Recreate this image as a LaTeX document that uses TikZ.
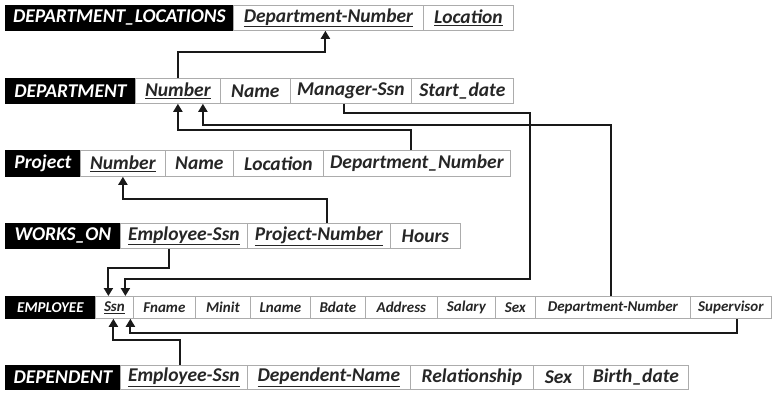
\documentclass[tikz,border=0pt]{standalone}
\usepackage{fontspec}
\setmainfont{Carlito}
\usetikzlibrary{arrows.meta,calc}
\tikzset{
  cell/.style={draw=gray!65, line width=0.8pt, fill=white, inner sep=0pt, anchor=north west,
    font=\fontsize{19.5}{21}\selectfont\bfseries\itshape, text=black!85},
  hdr/.style={fill=black, draw=black, text=white},
  small/.style={font=\fontsize{15}{17}\selectfont\bfseries\itshape},
  link/.style={line width=2pt, draw=black!90, -{Triangle[width=9pt,length=8pt]}},
}
\newcommand\rc[7][]{\node[cell,#1,minimum width={(#4-#3)*1pt},minimum height={(#6-#5)*1pt}] (#2) at (#3,#5) {#7};}
\begin{document}
\begin{tikzpicture}[x=1pt,y=-1pt]
\useasboundingbox[fill=white] (0,0) rectangle (773,392);
% DEPARTMENT_LOCATIONS
\rc[hdr]{dlh}{5}{233}{5}{30}{DEPARTMENT\_LOCATIONS}
\rc{dldn}{233}{423}{5}{30}{\underline{Department-Number}}
\rc{dlloc}{423}{513}{5}{30}{\underline{Location}}
% DEPARTMENT
\rc[hdr]{deph}{5}{135}{78}{103}{DEPARTMENT}
\rc{depnum}{135}{220}{78}{103}{\underline{Number}}
\rc{depname}{220}{290}{78}{103}{Name}
\rc{depmgr}{290}{411}{78}{103}{Manager-Ssn}
\rc{depstart}{411}{513}{78}{103}{Start\_date}
% Project
\rc[hdr]{prh}{5}{80}{150}{176}{Project}
\rc{prnum}{80}{165}{150}{176}{\underline{Number}}
\rc{prname}{165}{233}{150}{176}{Name}
\rc{prloc}{233}{323}{150}{176}{Location}
\rc{prdn}{323}{510}{150}{176}{Department\_Number}
% WORKS_ON
\rc[hdr]{woh}{5}{120}{223}{248}{WORKS\_ON}
\rc{woessn}{120}{247}{223}{248}{\underline{Employee-Ssn}}
\rc{wopn}{247}{390}{223}{248}{\underline{Project-Number}}
\rc{wohrs}{390}{460}{223}{248}{Hours}
% EMPLOYEE
\rc[hdr,small]{emh}{5}{95}{296}{318}{EMPLOYEE}
\rc[small]{emssn}{95}{133}{296}{318}{\underline{Ssn}}
\rc[small]{emf}{133}{195}{296}{318}{Fname}
\rc[small]{emm}{195}{250}{296}{318}{Minit}
\rc[small]{eml}{250}{310}{296}{318}{Lname}
\rc[small]{emb}{310}{365}{296}{318}{Bdate}
\rc[small]{ema}{365}{437}{296}{318}{Address}
\rc[small]{ems}{437}{495}{296}{318}{Salary}
\rc[small]{emsex}{495}{535}{296}{318}{Sex}
\rc[small]{emdn}{535}{690}{296}{318}{Department-Number}
\rc[small]{emsup}{690}{771}{296}{318}{Supervisor}
% DEPENDENT
\rc[hdr]{dph}{5}{120}{365}{389}{DEPENDENT}
\rc{dpessn}{120}{247}{365}{389}{\underline{Employee-Ssn}}
\rc{dpname}{247}{410}{365}{389}{\underline{Dependent-Name}}
\rc{dprel}{410}{533}{365}{389}{Relationship}
\rc{dpsex}{533}{583}{365}{389}{Sex}
\rc{dpbd}{583}{688}{365}{389}{Birth\_date}
% connectors
\draw[link] (depnum.north) -- ++(0,-26) -| ($(dldn.south)+(-3,0)$);
\draw[link] ($(prdn.north)+(-6,0)$) -- ++(0,-20) -| (depnum.south);
\draw[link] ($(emdn.north)+(-2,0)$) -- ++(0,-171) -| ($(depnum.south)+(25,0)$);
\draw[link] ($(depmgr.south)+(-7,0)$) -- ++(0,9) -| ++(186,166) -| ($(emssn.north)+(11,0)$);
\draw[link] ($(wopn.north)+(8,0)$) -- ++(0,-24) -| (prnum.south);
\draw[link] ($(woessn.south)+(-15,0)$) -- ++(0,19) -| ($(emssn.north)+(-6,0)$);
\draw[link] ($(emsup.south)+(6,0)$) -- ++(0,14) -| ($(emssn.south)+(16,0)$);
\draw[link] ($(dpessn.north)+(-4,0)$) -- ++(0,-25) -| ($(emssn.south)+(-1,0)$);
\end{tikzpicture}
\end{document}
